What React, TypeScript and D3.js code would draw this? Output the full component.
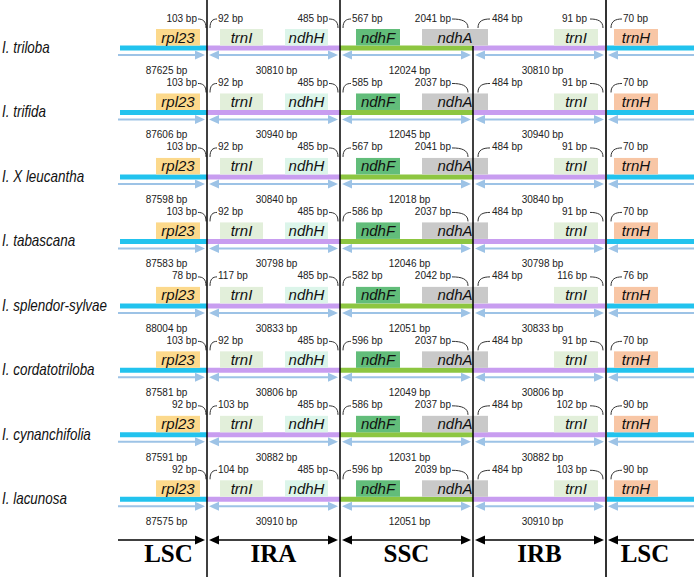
import React from "react";
import * as d3 from "d3";

const species = ["I. triloba", "I. trifida", "I. X leucantha", "I. tabascana", "I. splendor-sylvae", "I. cordatotriloba", "I. cynanchifolia", "I. lacunosa"];
const regionNames = ["LSC", "IRA", "SSC", "IRB", "LSC"];
const rpl23Bp = [103, 103, 103, 103, 78, 103, 92, 92];
const trnIaBp = [92, 92, 92, 92, 117, 92, 103, 104];
const ndhHBp = [485, 485, 485, 485, 485, 485, 485, 485];
const ndhFBp = [567, 585, 567, 586, 582, 596, 586, 596];
const ndhABp = [2041, 2037, 2041, 2037, 2042, 2037, 2037, 2039];
const irbStartBp = [484, 484, 484, 484, 484, 484, 484, 484];
const trnIbBp = [91, 91, 91, 91, 116, 91, 102, 103];
const trnHBp = [70, 70, 70, 70, 76, 70, 90, 90];
const lscLen = [87625, 87606, 87598, 87583, 88004, 87581, 87591, 87575];
const iraLen = [30810, 30940, 30840, 30798, 30833, 30806, 30882, 30910];
const sscLen = [12024, 12045, 12018, 12046, 12051, 12049, 12031, 12051];
const irbLen = [30810, 30940, 30840, 30798, 30833, 30806, 30882, 30910];

const W = 696, H = 579;
const xB = d3.scaleLinear().domain([0, 1, 2, 3, 4, 5]).range([120, 207, 340, 473, 606, 694]);
const yRow = d3.scaleLinear().domain([0, species.length - 1]).range([48, 499.3]);

const regionColors = ["#22C3EE", "#C89DF0", "#8DC641", "#C89DF0", "#22C3EE"];
const genes = [
  { name: "rpl23", b: 1, d0: -51, d1: -7, fill: "#FCD98C" },
  { name: "trnI", b: 1, d0: 13, d1: 56, fill: "#E2EFDA" },
  { name: "ndhH", b: 2, d0: -55, d1: -12, fill: "#DCF5EA" },
  { name: "ndhF", b: 2, d0: 16, d1: 60, fill: "#62BD7A" },
  { name: "ndhA", b: 3, d0: -51, d1: 15, fill: "#C9C9C9" },
  { name: "trnI", b: 4, d0: -52, d1: -8, fill: "#E2EFDA" },
  { name: "trnH", b: 4, d0: 8, d1: 52, fill: "#F8C6A5" },
];
const bpSeries = [rpl23Bp, trnIaBp, ndhHBp, ndhFBp, ndhABp, irbStartBp, trnIbBp, trnHBp];
const bpLayout = [
  { b: 1, side: "L", t: -10, c0: -9, c1: -1 },
  { b: 1, side: "R", t: 11, c0: 3, c1: 10 },
  { b: 2, side: "L", t: -12, c0: -11, c1: -2 },
  { b: 2, side: "R", t: 12, c0: 3, c1: 11 },
  { b: 3, side: "L", t: -22, c0: -21, c1: -5 },
  { b: 3, side: "R", t: 19, c0: 5, c1: 17 },
  { b: 4, side: "L", t: -19, c0: -16, c1: -3 },
  { b: 4, side: "R", t: 17, c0: 5, c1: 16 },
];
const lenSeries = [lscLen, iraLen, sscLen, irbLen];

function head(x: number, y: number, dir: number, len: number, half: number) {
  return `M${x},${y}L${x - dir * len},${y - half}L${x - dir * len},${y + half}Z`;
}

function DoubleArrow({ x0, x1, y, color, w, len, half, left, right }: any) {
  return (
    <g>
      <line x1={x0 + (left ? len - 1 : 0)} x2={x1 - (right ? len - 1 : 0)} y1={y} y2={y} stroke={color} strokeWidth={w} />
      {left && <path d={head(x0, y, -1, len, half)} fill={color} />}
      {right && <path d={head(x1, y, 1, len, half)} fill={color} />}
    </g>
  );
}

export default function App() {
  const sans = "Liberation Sans, Arial, sans-serif";
  const nReg = regionNames.length;
  const yBottom = 540;
  return (
    <svg width={W} height={H} style={{ position: "absolute", left: 0, top: 0, background: "#fff" }} fontFamily={sans}>
      <rect width={W} height={H} fill="#fff" />
      {species.map((sp, i) => {
        const y = yRow(i);
        return (
          <g key={i}>
            <text transform={`translate(2,${y + 5}) scale(0.84,1)`} fontSize={16} fontStyle="italic" fill="#111">{sp}</text>
            {regionNames.map((r, k) => (
              <line key={k} x1={xB(k)} x2={xB(k + 1)} y1={y} y2={y} stroke={regionColors[k]} strokeWidth={5} />
            ))}
            {regionNames.map((r, k) => (
              <DoubleArrow key={"a" + k} x0={xB(k) + (k === 0 ? -2 : 2)} x1={xB(k + 1) - (k === nReg - 1 ? 0 : 2)} y={y + 7}
                color="#9DC3E6" w={2} len={10} half={4.5} left={k > 0} right={k < nReg - 1} />
            ))}
            {genes.map((g, k) => {
              const x0 = xB(g.b) + g.d0, x1 = xB(g.b) + g.d1;
              return (
                <g key={"g" + k}>
                  <rect x={x0} y={y - 19} width={x1 - x0} height={16.5} fill={g.fill} />
                  <text x={(x0 + x1) / 2} y={y - 5.5} fontSize={15} fontStyle="italic" textAnchor="middle" fill="#111">{g.name}</text>
                </g>
              );
            })}
            {bpLayout.map((l, k) => {
              const bx = xB(l.b);
              const top = y - 29, bot = y - 20;
              const c0 = bx + l.c0, c1 = bx + l.c1;
              const d = l.side === "L"
                ? `M${c0},${top}C${c0 + 0.6 * (c1 - c0)},${top} ${c1},${top + 2} ${c1},${bot}`
                : `M${c0},${bot}C${c0},${top + 2} ${c1 - 0.6 * (c1 - c0)},${top} ${c1},${top}`;
              return (
                <g key={"b" + k}>
                  <path d={d} fill="none" stroke="#333" strokeWidth={1} />
                  <text x={bx + l.t} y={y - 26.5} fontSize={10} textAnchor={l.side === "L" ? "end" : "start"} fill="#222">{bpSeries[k][i]} bp</text>
                </g>
              );
            })}
            {lenSeries.map((s, k) => (
              <text key={"l" + k} x={(xB(k) + xB(k + 1)) / 2 + 3} y={y + 26} fontSize={10} textAnchor="middle" fill="#222">{s[i]} bp</text>
            ))}
          </g>
        );
      })}
      {[1, 2, 3, 4].map((k) => (
        <line key={"v" + k} x1={xB(k)} x2={xB(k)} y1={k === 3 ? yRow(0) - 2 : 0} y2={577} stroke={k === 4 ? "#333" : "#000"} strokeWidth={k === 4 ? 2 : 1.5} />
      ))}
      {regionNames.map((r, k) => (
        <g key={"r" + k}>
          <DoubleArrow x0={xB(k) + (k === 0 ? -2 : 2)} x1={xB(k + 1) - (k === nReg - 1 ? 0 : 2)} y={yBottom}
            color="#000" w={1.5} len={10} half={4.5} left={k > 0} right={k < nReg - 1} />
          <text x={(xB(k) + xB(k + 1)) / 2 + (k === 0 ? 5 : k === nReg - 1 ? -5 : 0)} y={562} fontSize={25} fontWeight="bold"
            fontFamily="Liberation Serif, Times New Roman, serif" textAnchor="middle" fill="#000">{r}</text>
        </g>
      ))}
    </svg>
  );
}
